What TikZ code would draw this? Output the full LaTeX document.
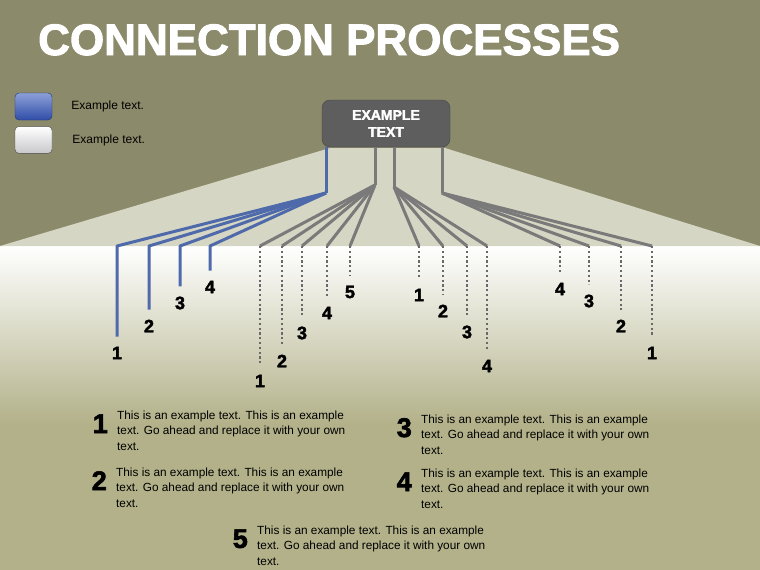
\documentclass[tikz,border=0pt]{standalone}
\usepackage{fontspec}
\setmainfont{Liberation Sans}
\newfontfamily\heavyfont[FakeBold=2.2]{Liberation Sans Bold}
\usepackage{xcolor}
\usepackage{tikz}
\usetikzlibrary{positioning, calc}

\definecolor{olivebg}{RGB}{139,138,106}
\definecolor{khaki}{RGB}{178,177,137}
\definecolor{spotedge}{RGB}{214,214,196}
\definecolor{spotmid}{RGB}{238,238,228}
\definecolor{hubgray}{RGB}{94,94,94}
\definecolor{hubedge}{RGB}{70,70,70}
\definecolor{linkblue}{RGB}{78,106,170}
\definecolor{linkgray}{RGB}{122,122,122}
\definecolor{dotgray}{RGB}{105,105,105}
\definecolor{keyblue}{RGB}{48,78,168}
\definecolor{keybluetop}{RGB}{140,160,215}
\definecolor{keygray}{RGB}{200,200,204}

\begin{document}
\begin{tikzpicture}[
    x=1pt, y=-1pt,
    hub/.style={rectangle, rounded corners=8pt, draw=hubedge, fill=hubgray, minimum width=128pt, minimum height=47pt, align=center, text=white, font=\fontsize{14}{17}\heavyfont},
    keybox/.style={rectangle, rounded corners=4pt, minimum width=37pt, minimum height=27pt, inner sep=0pt},
    keytext/.style={font=\fontsize{12}{14}\selectfont, inner sep=0pt},
    blueline/.style={draw=linkblue, line width=3pt, line join=round},
    grayline/.style={draw=linkgray, line width=3pt, line join=round},
    dotline/.style={draw=dotgray, line width=2.6pt, dash pattern=on 2.2pt off 2.6pt, shorten >=10pt},
    tip/.style={shorten >=10pt},
    num/.style={inner sep=0pt, font=\fontsize{18}{18}\heavyfont},
    bignum/.style={inner sep=0pt, font=\fontsize{27}{27}\heavyfont},
    desc/.style={anchor=north west, inner sep=0pt, align=left, font=\fontsize{11.8}{15.2}\selectfont},
]
    \useasboundingbox (0,0) rectangle (760,570);

    % Backdrop
    \fill[olivebg] (0,0) rectangle (760,246);
    \shade[top color=white, middle color=khaki!35!white, bottom color=khaki] (0,246) rectangle (760,425);
    \fill[khaki] (0,425) rectangle (760,570);
    \shade[left color=spotedge, middle color=spotmid, right color=spotedge] (330,148) -- (445,148) -- (760,246) -- (0,246) -- cycle;

    % Title
    \node[anchor=base west, inner sep=0pt, text=white, font=\fontsize{44}{44}\heavyfont] (title) at (38,55) {CONNECTION PROCESSES};

    % Legend
    \node[keybox, top color=keybluetop, bottom color=keyblue, draw=keyblue!70!black] (keyblue) at (33.5,106.5) {};
    \node[keybox, top color=white, bottom color=keygray, draw=black!70, below=6pt of keyblue] (keygray) {};
    \node[keytext, right=19pt of keyblue] (keybluetext) {Example text.};
    \node[keytext, right=20pt of keygray] (keygraytext) {Example text.};

    % Central box
    \node[hub] (hub) at (386,123.5) {EXAMPLE\\TEXT};

    % Junctions below the box
    \coordinate (fan) at (0,246);
    \coordinate (jblue) at (326,193);
    \coordinate (jga) at (375,185);
    \coordinate (jgb) at (394,187);
    \coordinate (jgc) at (442,193);

    % Trunks
    \draw[blueline] (hub.south -| jblue) -- (jblue);
    \draw[grayline] (hub.south -| jga) -- (jga);
    \draw[grayline] (hub.south -| jgb) -- (jgb);
    \draw[grayline] (hub.south -| jgc) -- (jgc);

    % End labels
    \node[num] (b1) at (117,353) {1};
    \node[num] (b2) at (149,326) {2};
    \node[num] (b3) at (180,303) {3};
    \node[num] (b4) at (210,287) {4};
    \node[num] (c1) at (260,381) {1};
    \node[num] (c2) at (282,361) {2};
    \node[num] (c3) at (302,333) {3};
    \node[num] (c4) at (327,313) {4};
    \node[num] (c5) at (350,292) {5};
    \node[num] (d1) at (419,295) {1};
    \node[num] (d2) at (443,311) {2};
    \node[num] (d3) at (467,332) {3};
    \node[num] (d4) at (487,366) {4};
    \node[num] (e4) at (560,289) {4};
    \node[num] (e3) at (589,301) {3};
    \node[num] (e2) at (621,326) {2};
    \node[num] (e1) at (652,353) {1};

    % Blue branches
    \draw[blueline, tip] (jblue) -- (b1 |- fan) -- (b1.north);
    \draw[blueline, tip] (jblue) -- (b2 |- fan) -- (b2.north);
    \draw[blueline, tip] (jblue) -- (b3 |- fan) -- (b3.north);
    \draw[blueline, tip] (jblue) -- (b4 |- fan) -- (b4.north);

    % Gray branches with dotted drops
    \draw[grayline] (jga) -- (c1 |- fan) edge[dotline] (c1.north);
    \draw[grayline] (jga) -- (c2 |- fan) edge[dotline] (c2.north);
    \draw[grayline] (jga) -- (c3 |- fan) edge[dotline] (c3.north);
    \draw[grayline] (jga) -- (c4 |- fan) edge[dotline] (c4.north);
    \draw[grayline] (jga) -- (c5 |- fan) edge[dotline] (c5.north);
    \draw[grayline] (jgb) -- (d1 |- fan) edge[dotline] (d1.north);
    \draw[grayline] (jgb) -- (d2 |- fan) edge[dotline] (d2.north);
    \draw[grayline] (jgb) -- (d3 |- fan) edge[dotline] (d3.north);
    \draw[grayline] (jgb) -- (d4 |- fan) edge[dotline] (d4.north);
    \draw[grayline] (jgc) -- (e4 |- fan) edge[dotline] (e4.north);
    \draw[grayline] (jgc) -- (e3 |- fan) edge[dotline] (e3.north);
    \draw[grayline] (jgc) -- (e2 |- fan) edge[dotline] (e2.north);
    \draw[grayline] (jgc) -- (e1 |- fan) edge[dotline] (e1.north);

    % Descriptions
    \node[desc] (t1) at (117,411) {This is an example text. This is an example\\text. Go ahead and replace it with your own\\text.};
    \node[desc] (t2) at (116,468) {This is an example text. This is an example\\text. Go ahead and replace it with your own\\text.};
    \node[desc] (t3) at (421,415) {This is an example text. This is an example\\text. Go ahead and replace it with your own\\text.};
    \node[desc] (t4) at (421,469) {This is an example text. This is an example\\text. Go ahead and replace it with your own\\text.};
    \node[desc] (t5) at (257,526) {This is an example text. This is an example\\text. Go ahead and replace it with your own\\text.};
    \node[bignum, left=9pt of t1, yshift=7pt] (n1) {1};
    \node[bignum, left=9pt of t2, yshift=7pt] (n2) {2};
    \node[bignum, left=9pt of t3, yshift=7pt] (n3) {3};
    \node[bignum, left=9pt of t4, yshift=7pt] (n4) {4};
    \node[bignum, left=9pt of t5, yshift=7pt] (n5) {5};
\end{tikzpicture}
\end{document}
